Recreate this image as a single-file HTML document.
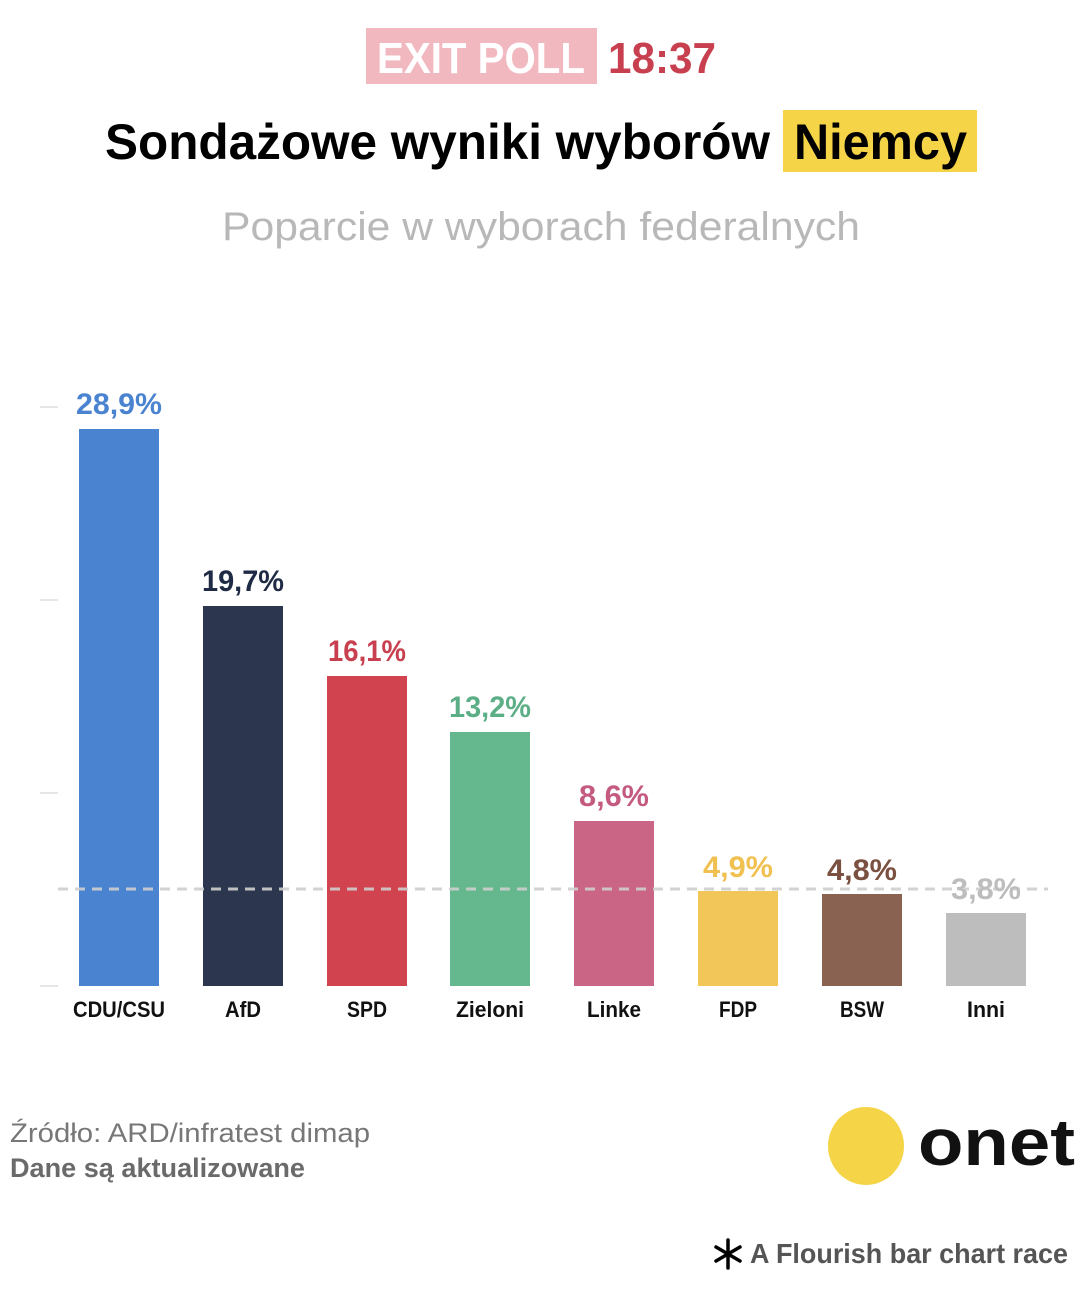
<!DOCTYPE html>
<html><head><meta charset="utf-8"><style>
html,body{margin:0;padding:0;background:#fff;}
svg{display:block;font-family:"Liberation Sans",sans-serif;}
</style></head><body>
<svg width="1079" height="1292" viewBox="0 0 1079 1292" xmlns="http://www.w3.org/2000/svg">
<rect x="366" y="28" width="231" height="56" fill="#f2b8c0"/>
<text x="377" y="73" font-size="44" font-weight="bold" fill="#fff" textLength="208" lengthAdjust="spacingAndGlyphs">EXIT POLL</text>
<text x="608" y="73" font-size="44" font-weight="bold" fill="#c8404f" textLength="108" lengthAdjust="spacingAndGlyphs">18:37</text>
<rect x="783" y="110" width="194" height="62" fill="#f5d547"/>
<text x="105" y="159" font-size="50" font-weight="bold" fill="#000" textLength="665" lengthAdjust="spacingAndGlyphs">Sondażowe wyniki wyborów</text>
<text x="794" y="159" font-size="50" font-weight="bold" fill="#000" textLength="173" lengthAdjust="spacingAndGlyphs">Niemcy</text>
<text x="222" y="240" font-size="40" fill="#b8b8b8" textLength="638" lengthAdjust="spacingAndGlyphs">Poparcie w wyborach federalnych</text>
<g stroke="#e6e6e6" stroke-width="2">
<line x1="40" y1="407" x2="58" y2="407"/><line x1="40" y1="600" x2="58" y2="600"/>
<line x1="40" y1="793" x2="58" y2="793"/><line x1="40" y1="986" x2="58" y2="986"/>
</g>
<rect x="79" y="429" width="80" height="557" fill="#4a83d0"/>
<rect x="203" y="606" width="80" height="380" fill="#2c364e"/>
<rect x="327" y="676" width="80" height="310" fill="#d0434f"/>
<rect x="450" y="732" width="80" height="254" fill="#65b88e"/>
<rect x="574" y="821" width="80" height="165" fill="#cb6586"/>
<rect x="698" y="891" width="80" height="95" fill="#f3c65a"/>
<rect x="822" y="894" width="80" height="92" fill="#8a6252"/>
<rect x="946" y="913" width="80" height="73" fill="#bdbdbd"/>
<line x1="58" y1="889" x2="1048" y2="889" stroke="#cfcfcf" stroke-width="3" stroke-dasharray="10 7" opacity="0.9"/>
<g font-size="30" font-weight="bold" text-anchor="middle">
<text x="119" y="414" fill="#4a83d0" textLength="86" lengthAdjust="spacingAndGlyphs">28,9%</text>
<text x="243" y="591" fill="#1f2a44" textLength="82" lengthAdjust="spacingAndGlyphs">19,7%</text>
<text x="367" y="661" fill="#c8404f" textLength="78" lengthAdjust="spacingAndGlyphs">16,1%</text>
<text x="490" y="717" fill="#5cae86" textLength="82" lengthAdjust="spacingAndGlyphs">13,2%</text>
<text x="614" y="806" fill="#c45a80" textLength="70" lengthAdjust="spacingAndGlyphs">8,6%</text>
<text x="738" y="877" fill="#f0c050" textLength="70" lengthAdjust="spacingAndGlyphs">4,9%</text>
<text x="862" y="880" fill="#7a5040" textLength="70" lengthAdjust="spacingAndGlyphs">4,8%</text>
<text x="986" y="899" fill="#bdbdbd" textLength="70" lengthAdjust="spacingAndGlyphs">3,8%</text>
</g>
<g font-size="22" font-weight="bold" text-anchor="middle" fill="#111">
<text x="119" y="1017" textLength="92" lengthAdjust="spacingAndGlyphs">CDU/CSU</text>
<text x="243" y="1017" textLength="36" lengthAdjust="spacingAndGlyphs">AfD</text>
<text x="367" y="1017" textLength="40" lengthAdjust="spacingAndGlyphs">SPD</text>
<text x="490" y="1017" textLength="68" lengthAdjust="spacingAndGlyphs">Zieloni</text>
<text x="614" y="1017" textLength="54" lengthAdjust="spacingAndGlyphs">Linke</text>
<text x="738" y="1017" textLength="38" lengthAdjust="spacingAndGlyphs">FDP</text>
<text x="862" y="1017" textLength="44" lengthAdjust="spacingAndGlyphs">BSW</text>
<text x="986" y="1017" textLength="38" lengthAdjust="spacingAndGlyphs">Inni</text>
</g>
<text x="10" y="1142" font-size="27" fill="#777" textLength="360" lengthAdjust="spacingAndGlyphs">Źródło: ARD/infratest dimap</text>
<text x="10" y="1177" font-size="27" font-weight="bold" fill="#6a6a6a" textLength="295" lengthAdjust="spacingAndGlyphs">Dane są aktualizowane</text>
<ellipse cx="866" cy="1146" rx="38" ry="39" fill="#f5d547"/>
<text x="918" y="1165" font-size="66" font-weight="bold" fill="#111" textLength="157" lengthAdjust="spacingAndGlyphs">onet</text>
<g stroke="#000" stroke-width="3.5" stroke-linecap="round">
<line x1="728" y1="1240" x2="728" y2="1268"/><line x1="716" y1="1247" x2="740" y2="1261"/><line x1="716" y1="1261" x2="740" y2="1247"/>
</g>
<text x="750" y="1263" font-size="28" font-weight="bold" fill="#555" textLength="318" lengthAdjust="spacingAndGlyphs">A Flourish bar chart race</text>
</svg>
</body></html>
